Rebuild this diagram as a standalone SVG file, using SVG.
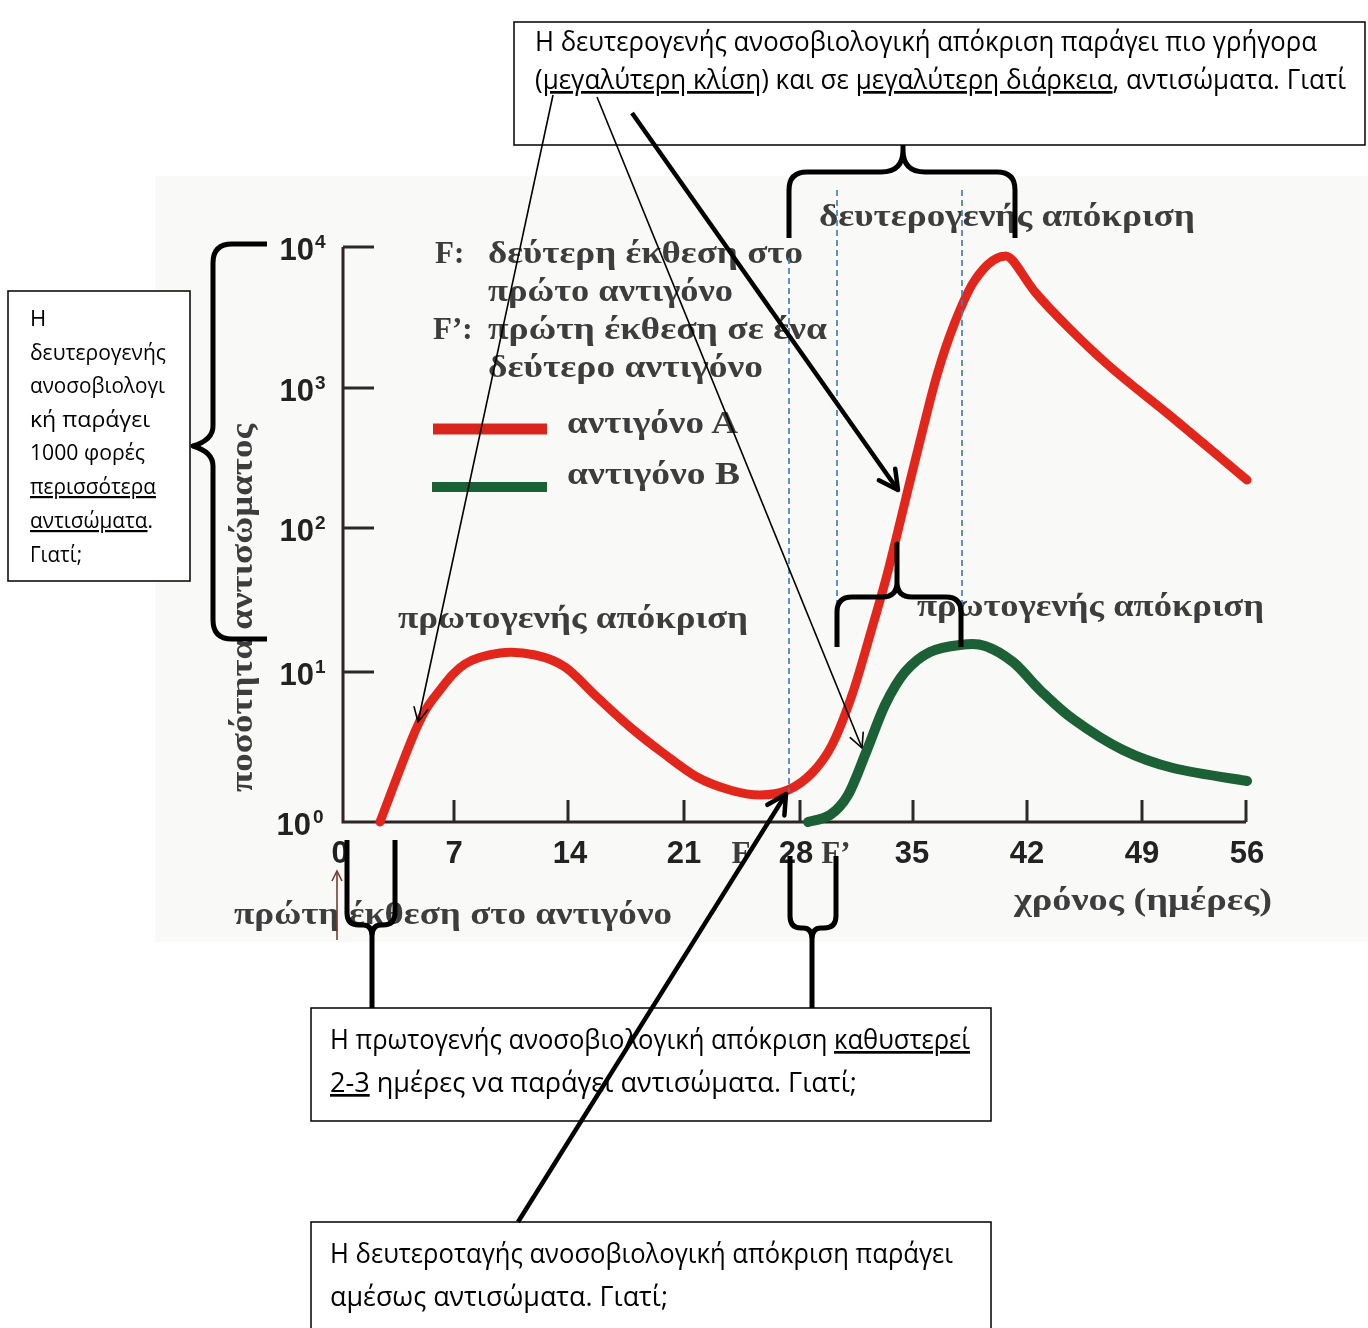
<svg xmlns="http://www.w3.org/2000/svg" width="1368" height="1328" viewBox="0 0 1368 1328">
  <style>
    .box { fill: #ffffff; stroke: #000000; stroke-width: 1.5; }
    .note { font-family: "Open Sans", "Noto Sans", sans-serif; fill: #000000; }
    .note-l { font-size: 22px; }
    .note-m { font-size: 27px; }
    .u { text-decoration: underline; }
    .gr { font-family: "Liberation Serif", "DejaVu Serif", serif; font-weight: bold; fill: #3d3d3d; font-size: 31px; }
    .num { font-family: "Liberation Sans", Arial, sans-serif; font-weight: bold; fill: #222222; font-size: 31px; }
    .sup { font-family: "Liberation Sans", Arial, sans-serif; font-weight: bold; fill: #222222; font-size: 19px; }
    .axis { stroke: #2e2626; stroke-width: 3; fill: none; }
    .tick { stroke: #2a2a2a; stroke-width: 3; }
    .brace { fill: none; stroke: #000000; stroke-width: 5; stroke-linejoin: round; stroke-linecap: butt; }
    .guide { stroke: #4a7cc0; stroke-width: 1.7; stroke-dasharray: 6 4; fill: none; }
    .thin { stroke: #000000; stroke-width: 1.6; fill: none; }
    .thick { stroke: #000000; stroke-width: 4.5; fill: none; }
  </style>
  <defs>
    <filter id="soft" x="-5%" y="-5%" width="110%" height="110%">
      <feGaussianBlur stdDeviation="0.7"/>
    </filter>
    <marker id="ah-thin" viewBox="-17 -10 19 20" refX="0" refY="0" markerWidth="19" markerHeight="20" markerUnits="userSpaceOnUse" orient="auto">
      <path d="M-14,-7 L0,0 L-14,7" fill="none" stroke="#000" stroke-width="1.6" stroke-linecap="round" stroke-linejoin="round"/>
    </marker>
    <marker id="ah-thick" viewBox="-24 -14 28 28" refX="0" refY="0" markerWidth="28" markerHeight="28" markerUnits="userSpaceOnUse" orient="auto">
      <path d="M-19,-10 L0,0 L-19,10" fill="none" stroke="#000" stroke-width="4.5" stroke-linecap="round" stroke-linejoin="round"/>
    </marker>
    <marker id="ah-brown" viewBox="-12 -8 14 16" refX="0" refY="0" markerWidth="14" markerHeight="16" markerUnits="userSpaceOnUse" orient="auto">
      <path d="M-10,-5 L0,0 L-10,5" fill="none" stroke="#7a3b2e" stroke-width="1.6"/>
    </marker>
  </defs>

  <rect width="1368" height="1328" fill="#ffffff"/>

  <!-- antibody response graph -->
  <g id="graph">
    <rect x="155" y="176" width="1213" height="766" fill="#f9f9f7"/>
    <g filter="url(#soft)">
      <!-- axes -->
      <path class="axis" d="M343,247 L343,822 L1246,822"/>
      <g class="tick">
        <line x1="343" y1="247" x2="374" y2="247"/>
        <line x1="343" y1="388" x2="374" y2="388"/>
        <line x1="343" y1="528" x2="374" y2="528"/>
        <line x1="343" y1="672" x2="374" y2="672"/>
        <line x1="454" y1="800" x2="454" y2="822"/>
        <line x1="568" y1="800" x2="568" y2="822"/>
        <line x1="684" y1="800" x2="684" y2="822"/>
        <line x1="800" y1="800" x2="800" y2="822"/>
        <line x1="913" y1="800" x2="913" y2="822"/>
        <line x1="1027" y1="800" x2="1027" y2="822"/>
        <line x1="1142" y1="800" x2="1142" y2="822"/>
        <line x1="1246" y1="800" x2="1246" y2="822"/>
      </g>

      <!-- y axis labels -->
      <text class="num" x="314" y="260" text-anchor="end">10</text><text class="sup" x="315" y="248">4</text>
      <text class="num" x="314" y="401" text-anchor="end">10</text><text class="sup" x="315" y="389">3</text>
      <text class="num" x="314" y="541" text-anchor="end">10</text><text class="sup" x="315" y="529">2</text>
      <text class="num" x="314" y="685" text-anchor="end">10</text><text class="sup" x="315" y="673">1</text>
      <text class="num" x="311" y="835" text-anchor="end">10</text><text class="sup" x="313" y="823">0</text>

      <!-- x axis labels -->
      <g class="num" text-anchor="middle">
        <text x="340" y="863">0</text>
        <text x="454" y="863">7</text>
        <text x="570" y="863">14</text>
        <text x="684" y="863">21</text>
        <text x="796" y="863">28</text>
        <text x="912" y="863">35</text>
        <text x="1027" y="863">42</text>
        <text x="1142" y="863">49</text>
        <text x="1247" y="863">56</text>
      </g>
      <text class="gr" x="741" y="863" text-anchor="middle">F</text>
      <text class="gr" x="836" y="863" text-anchor="middle">F’</text>

      <!-- axis titles -->
      <text class="gr" transform="translate(252,792) rotate(-90)" x="0" y="0" textLength="368" lengthAdjust="spacingAndGlyphs">ποσότητα αντισώματος</text>
      <text class="gr" x="1014" y="910" textLength="258" lengthAdjust="spacingAndGlyphs">χρόνος (ημέρες)</text>
      <text class="gr" x="234" y="924" textLength="438" lengthAdjust="spacingAndGlyphs">πρώτη έκθεση στο αντιγόνο</text>
      <line x1="337" y1="940" x2="337" y2="871" stroke="#7a3b2e" stroke-width="1.6" marker-end="url(#ah-brown)"/>

      <!-- legend -->
      <text class="gr" x="435" y="263">F:</text>
      <text class="gr" x="488" y="263" textLength="315" lengthAdjust="spacingAndGlyphs">δεύτερη έκθεση στο</text>
      <text class="gr" x="488" y="301" textLength="245" lengthAdjust="spacingAndGlyphs">πρώτο αντιγόνο</text>
      <text class="gr" x="433" y="339">F’:</text>
      <text class="gr" x="488" y="339" textLength="339" lengthAdjust="spacingAndGlyphs">πρώτη έκθεση σε ένα</text>
      <text class="gr" x="488" y="377" textLength="275" lengthAdjust="spacingAndGlyphs">δεύτερο αντιγόνο</text>
      <line x1="433" y1="429" x2="547" y2="429" stroke="#d8281f" stroke-width="11"/>
      <text class="gr" x="567" y="433" textLength="171" lengthAdjust="spacingAndGlyphs">αντιγόνο Α</text>
      <line x1="432" y1="487" x2="547" y2="487" stroke="#1c6134" stroke-width="10"/>
      <text class="gr" x="567" y="484" textLength="173" lengthAdjust="spacingAndGlyphs">αντιγόνο Β</text>

      <!-- curve labels -->
      <text class="gr" x="398" y="628" textLength="350" lengthAdjust="spacingAndGlyphs">πρωτογενής απόκριση</text>
      <text class="gr" x="819" y="226" textLength="376" lengthAdjust="spacingAndGlyphs">δευτερογενής απόκριση</text>
      <text class="gr" x="917" y="616" textLength="347" lengthAdjust="spacingAndGlyphs">πρωτογενής απόκριση</text>

      <!-- antigen A -->
      <path fill="none" stroke="#e2281d" stroke-width="9" stroke-linecap="round" stroke-linejoin="round"
        d="M380,822 C386.2,806.2 407,749 417,727 C427,705 432,700.5 440,690 C448,679.5 455,670.2 465,664
           C475,657.8 488.3,654.5 500,653 C511.7,651.5 524.2,652.7 535,655 C545.8,657.3 554.7,660 565,667
           C575.3,674 586.2,687 597,697 C607.8,707 619,717.7 630,727 C641,736.3 651.8,744.7 663,753
           C674.2,761.3 685.8,770.8 697,777 C708.2,783.2 719.5,787 730,790 C740.5,793 750.3,795 760,795
           C769.7,795 779.3,793.7 788,790 C796.7,786.3 804.7,780.5 812,773 C819.3,765.5 825.3,758 832,745
           C838.7,732 845.7,713.3 852,695 C858.3,676.7 864.2,655 870,635 C875.8,615 881.5,595.8 887,575
           C892.5,554.2 897.7,531.7 903,510 C908.3,488.3 913.3,467.5 919,445 C924.7,422.5 931,395.5 937,375
           C943,354.5 948.7,337.8 955,322 C961.3,306.2 967.5,290.5 975,280 C983,268 993,257 1005,256
           C1013,255 1022,276 1035,292 C1052,312 1084.8,344.3 1107,364
           C1129.2,383.7 1149.7,398.7 1173,418 C1196.3,437.3 1234.7,469.7 1247,480"/>

      <!-- antigen B -->
      <path fill="none" stroke="#1c6134" stroke-width="10" stroke-linecap="round" stroke-linejoin="round"
        d="M808,822 C811.7,820.8 823.3,819.5 830,815 C836.7,810.5 841.8,805.8 848,795 C854.2,784.2 860.8,765 867,750
           C873.2,735 878.7,718 885,705 C891.3,692 897.5,680.8 905,672 C912.5,663.2 920.8,656.5 930,652
           C939.2,647.5 950.8,646 960,645 C969.2,644 976.2,643.2 985,646 C993.8,648.8 1003.8,654.7 1013,662
           C1022.2,669.3 1030,680.5 1040,690 C1050,699.5 1059.2,709 1073,719 C1086.8,729 1106.3,741.8 1123,750
           C1139.7,758.2 1152.3,762.8 1173,768 C1193.7,773.2 1234.7,778.8 1247,781"/>
    </g>
  </g>

  <!-- dashed guide lines -->
  <g id="guides">
    <line class="guide" x1="789" y1="258" x2="789" y2="792"/>
    <line class="guide" x1="837" y1="190" x2="837" y2="647"/>
    <line class="guide" x1="962" y1="190" x2="962" y2="647"/>
  </g>

  <!-- braces -->
  <g id="braces">
    <path id="brace-left" class="brace" d="M267,244 L232,244 Q213,244 213,263 L213,426 Q213,440 193,446 Q213,452 213,466 L213,620 Q213,639 232,639 L267,639"/>
    <path id="brace-top" class="brace" d="M789,238 L789,190 Q789,172 807,172 L881,172 Q903,172 903,150 L903,105 L903,150 Q903,172 925,172 L997,172 Q1015,172 1015,190 L1015,238"/>
    <path id="brace-mid" class="brace" d="M837,647 L837,612 Q837,597 852,597 L882,597 Q897,597 897,582 L897,544 L897,582 Q897,597 912,597 L946,597 Q961,597 961,612 L961,647"/>
    <path id="brace-day0" class="brace" d="M347,840 L347,913 Q347,925 359,925 L363,925 Q372,925 372,936 L372,1008 L372,936 Q372,925 381,925 L383,925 Q395,925 395,913 L395,840"/>
    <path id="brace-day28" class="brace" d="M790,856 L790,916 Q790,928 801,928 L803,928 Q812,928 812,939 L812,1008 L812,939 Q812,928 821,928 L824,928 Q836,928 836,916 L836,856"/>
  </g>

  <!-- note: amount of antibody -->
  <g id="note-amount">
    <rect class="box" x="8" y="291" width="182" height="290"/>
    <g class="note note-l">
      <text x="30" y="326">Η</text>
      <text x="30" y="360" textLength="136" lengthAdjust="spacingAndGlyphs">δευτερογενής</text>
      <text x="30" y="393" textLength="135" lengthAdjust="spacingAndGlyphs">ανοσοβιολογι</text>
      <text x="30" y="427" textLength="120" lengthAdjust="spacingAndGlyphs">κή παράγει</text>
      <text x="30" y="460" textLength="115" lengthAdjust="spacingAndGlyphs">1000 φορές</text>
      <text x="30" y="494" textLength="126" lengthAdjust="spacingAndGlyphs"><tspan class="u">περισσότερα</tspan></text>
      <text x="30" y="528" textLength="123" lengthAdjust="spacingAndGlyphs"><tspan class="u">αντισώματα</tspan>.</text>
      <text x="30" y="562" textLength="52" lengthAdjust="spacingAndGlyphs">Γιατί;</text>
    </g>
  </g>

  <!-- note: secondary response rate and duration -->
  <g id="note-secondary">
    <rect class="box" x="514" y="22" width="851" height="123"/>
    <g class="note note-m">
      <text x="535" y="51" textLength="782" lengthAdjust="spacingAndGlyphs">Η δευτερογενής ανοσοβιολογική απόκριση παράγει πιο γρήγορα</text>
      <text x="535" y="89" textLength="811" lengthAdjust="spacingAndGlyphs">(<tspan class="u">μεγαλύτερη κλίση</tspan>) και σε <tspan class="u">μεγαλύτερη διάρκεια</tspan>, αντισώματα. Γιατί</text>
    </g>
  </g>

  <!-- note: primary response delay -->
  <g id="note-delay">
    <rect class="box" x="311" y="1008" width="680" height="113"/>
    <g class="note note-m">
      <text x="330" y="1049" textLength="640" lengthAdjust="spacingAndGlyphs">Η πρωτογενής ανοσοβιολογική απόκριση <tspan class="u">καθυστερεί</tspan></text>
      <text x="330" y="1092" textLength="527" lengthAdjust="spacingAndGlyphs"><tspan class="u">2-3</tspan> ημέρες να παράγει αντισώματα. Γιατί;</text>
    </g>
  </g>

  <!-- note: immediate secondary response -->
  <g id="note-immediate">
    <rect class="box" x="311" y="1222" width="680" height="130"/>
    <g class="note note-m">
      <text x="330" y="1263" textLength="623" lengthAdjust="spacingAndGlyphs">Η δευτεροταγής ανοσοβιολογική απόκριση παράγει</text>
      <text x="330" y="1306" textLength="338" lengthAdjust="spacingAndGlyphs">αμέσως αντισώματα. Γιατί;</text>
    </g>
  </g>

  <!-- connectors -->
  <g id="connectors">
    <line class="thin" x1="553" y1="95" x2="418" y2="722" marker-end="url(#ah-thin)"/>
    <line class="thin" x1="597" y1="97" x2="862" y2="748" marker-end="url(#ah-thin)"/>
    <line class="thick" x1="632" y1="113" x2="898" y2="490" marker-end="url(#ah-thick)"/>
    <line class="thick" x1="518" y1="1222" x2="786" y2="794" marker-end="url(#ah-thick)"/>
  </g>
</svg>
